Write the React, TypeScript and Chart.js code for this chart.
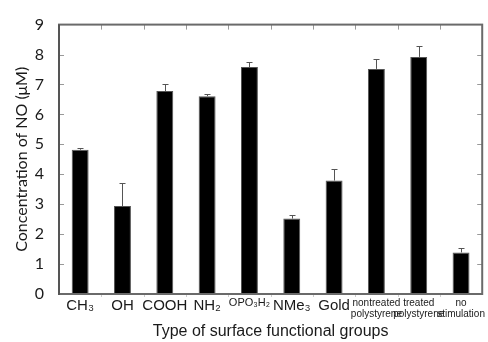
import React, { useEffect, useRef } from "react";
import { Chart, registerables } from "chart.js";

Chart.register(...registerables);

const categories: (string | string[])[] = [
  "CH₃",
  "OH",
  "COOH",
  "NH₂",
  "OPO₃H₂",
  "NMe₃",
  "Gold",
  ["nontreated", "polystyrene"],
  ["treated", "polystyrene"],
  ["no", "stimulation"],
];
const values = [4.82, 2.94, 6.78, 6.61, 7.58, 2.52, 3.79, 7.52, 7.92, 1.39];
const errors = [0.07, 0.77, 0.22, 0.06, 0.17, 0.12, 0.37, 0.33, 0.37, 0.14];
const labelSizes = [15, 15, 15, 15, 11, 15, 15, 10, 10, 10];
const yMin = 0;
const yMax = 9;

const framePlugin = {
  id: "frameAndErrors",
  afterDatasetsDraw(chart: any) {
    const { ctx, chartArea, scales } = chart;
    const xs = scales.x;
    const ys = scales.y;
    const { left, right, top, bottom } = chartArea;
    ctx.save();
    // error bars
    ctx.strokeStyle = "#555";
    ctx.lineWidth = 1;
    values.forEach((v, i) => {
      const x = Math.round(xs.getPixelForValue(i)) + 0.5;
      const y0 = ys.getPixelForValue(v);
      const y1 = Math.round(ys.getPixelForValue(v + errors[i])) + 0.5;
      ctx.beginPath();
      ctx.moveTo(x, y0);
      ctx.lineTo(x, y1);
      ctx.moveTo(x - 3, y1);
      ctx.lineTo(x + 3, y1);
      ctx.stroke();
    });
    // inward ticks
    ctx.strokeStyle = "#999";
    ctx.lineWidth = 1;
    for (let v = yMin + 1; v < yMax; v++) {
      const y = Math.round(ys.getPixelForValue(v)) + 0.5;
      ctx.beginPath();
      ctx.moveTo(left, y);
      ctx.lineTo(left + 5, y);
      ctx.moveTo(right, y);
      ctx.lineTo(right - 5, y);
      ctx.stroke();
    }
    for (let i = 0; i < values.length - 1; i++) {
      const x = Math.round((xs.getPixelForValue(i) + xs.getPixelForValue(i + 1)) / 2) + 0.5;
      ctx.strokeStyle = "#999";
      ctx.beginPath();
      ctx.moveTo(x, top);
      ctx.lineTo(x, top + 5);
      ctx.stroke();
      ctx.strokeStyle = "#ccc";
      ctx.beginPath();
      ctx.moveTo(x, bottom);
      ctx.lineTo(x, bottom + 3);
      ctx.stroke();
    }
    // frame
    ctx.strokeStyle = "#6a6a6a";
    ctx.lineWidth = 2;
    ctx.strokeRect(left, top, right - left, bottom - top);
    ctx.strokeStyle = "#555";
    ctx.beginPath();
    ctx.moveTo(left, top);
    ctx.lineTo(left, bottom + 1);
    ctx.stroke();
    ctx.restore();
  },
};

export default function App() {
  const ref = useRef<HTMLCanvasElement>(null);
  useEffect(() => {
    if (!ref.current) return;
    const chart = new Chart(ref.current, {
      type: "bar",
      data: {
        labels: categories as any,
        datasets: [
          {
            data: values,
            backgroundColor: "#000",
            borderColor: "#555",
            borderWidth: 1,
            barPercentage: 0.4,
            categoryPercentage: 1,
          },
        ],
      },
      options: {
        responsive: false,
        animation: false,
        layout: { padding: { top: 19, right: 1, left: 0, bottom: 0 } },
        plugins: { legend: { display: false }, tooltip: { enabled: false } },
        scales: {
          x: {
            grid: { display: false, drawTicks: false },
            border: { display: false },
            ticks: {
              color: "#1a1a1a",
              padding: 3,
              maxRotation: 0,
              autoSkip: false,
              font: (c: any) => ({
                family: "'Liberation Sans', Arial, sans-serif",
                size: labelSizes[c.index] ?? 15,
                lineHeight: 1.15,
              }),
            },
            title: {
              display: true,
              text: "Type of surface functional groups",
              color: "#1a1a1a",
              font: { family: "'Liberation Sans', Arial, sans-serif", size: 16 },
              padding: { top: 0, bottom: 1 },
            },
            afterFit: (s: any) => {
              s.height = 48;
            },
          },
          y: {
            min: yMin,
            max: yMax,
            grid: { display: false, drawTicks: false },
            border: { display: false },
            ticks: {
              stepSize: 1,
              color: "#1a1a1a",
              padding: 15,
              font: { family: "Lato, 'Open Sans', sans-serif", size: 16 },
            },
            title: {
              display: true,
              text: "Concentration of NO (μM)",
              color: "#1a1a1a",
              font: { family: "Lato, 'Open Sans', sans-serif", size: 16 },
              padding: { top: 12, bottom: 0 },
            },
            afterFit: (s: any) => {
              s.width = 59;
            },
          },
        },
      },
      plugins: [framePlugin],
    });
    return () => chart.destroy();
  }, []);
  return (
    <div style={{ position: "fixed", left: 0, top: 0, width: 488, height: 342, background: "#fff" }}>
      <canvas ref={ref} width={488} height={342} />
    </div>
  );
}
